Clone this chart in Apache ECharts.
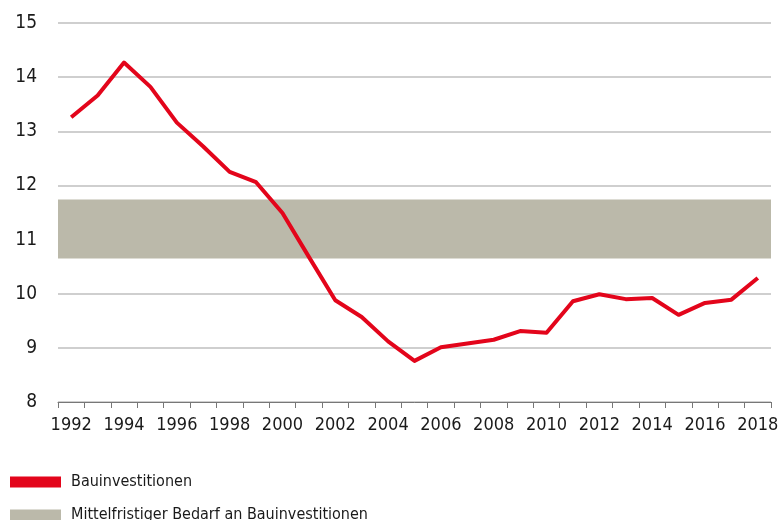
<!DOCTYPE html>
<html>
<head>
<meta charset="utf-8">
<script src="https://cdn.jsdelivr.net/npm/echarts@6/dist/echarts.min.js"></script>
<style>
html,body{margin:0;padding:0;background:#fff;}
#c{width:779px;height:520px;}
</style>
</head>
<body>
<div id="c"></div>
<script>
var years = ['1992','1993','1994','1995','1996','1997','1998','1999','2000','2001','2002','2003','2004','2005','2006','2007','2008','2009','2010','2011','2012','2013','2014','2015','2016','2017','2018'];
var bauinvestitionen = [13.26,13.66,14.27,13.82,13.16,12.72,12.25,12.06,11.49,10.68,9.88,9.57,9.12,8.76,9.01,9.08,9.15,9.31,9.28,9.86,9.99,9.90,9.92,9.61,9.83,9.89,10.29];
var bedarfRange = [10.65, 11.74];
var yTicks = [8,9,10,11,12,13,14,15];
var seriesNames = ['Bauinvestitionen','Mittelfristiger Bedarf an Bauinvestitionen'];

var FONT = '"DejaVu Sans Condensed","Liberation Sans Narrow",sans-serif';
var RED = '#E3051B';
var BAND = '#BBB9AA';

function legendFor(idx, top, color) {
  return {
    orient: 'vertical',
    left: 10,
    top: top,
    padding: 0,
    itemWidth: 51,
    itemHeight: 11,
    textStyle: {fontFamily: FONT, fontSize: 16, color: '#1a1a1a', padding: [0,0,0,5]},
    data: [{name: seriesNames[idx], icon: 'rect', itemStyle: {color: color}}]
  };
}

var chart = echarts.init(document.getElementById('c'));
chart.setOption({
  animation: false,
  grid: {left: 58, right: 8, top: 23, bottom: 118, containLabel: false, outerBoundsMode: 'none'},
  xAxis: {
    type: 'category',
    data: years,
    boundaryGap: true,
    axisLine: {lineStyle: {color: '#777', width: 1}},
    axisTick: {show: true, interval: 0, length: 6, lineStyle: {color: '#777'}},
    axisLabel: {interval: 1, color: '#1a1a1a', fontFamily: FONT, fontSize: 18, margin: 14},
    splitLine: {show: false}
  },
  yAxis: {
    type: 'value',
    min: yTicks[0],
    max: yTicks[yTicks.length-1],
    interval: 1,
    axisLine: {show: false},
    axisTick: {show: false},
    axisLabel: {color: '#1a1a1a', fontFamily: FONT, fontSize: 19, margin: 21},
    splitLine: {lineStyle: {color: '#BFBFBF', width: 1.5}}
  },
  legend: [
    legendFor(0, 474, RED),
    legendFor(1, 507, BAND)
  ],
  series: [
    {
      name: seriesNames[1],
      type: 'line',
      data: [],
      itemStyle: {color: BAND},
      lineStyle: {color: BAND},
      silent: true,
      markArea: {
        silent: true,
        itemStyle: {color: BAND, opacity: 1},
        data: [[{yAxis: bedarfRange[0]}, {yAxis: bedarfRange[1]}]]
      }
    },
    {
      name: seriesNames[0],
      type: 'line',
      data: bauinvestitionen,
      showSymbol: false,
      symbol: 'none',
      itemStyle: {color: RED},
      lineStyle: {color: RED, width: 4, join: 'round'},
      z: 5
    }
  ]
});
</script>
</body>
</html>
